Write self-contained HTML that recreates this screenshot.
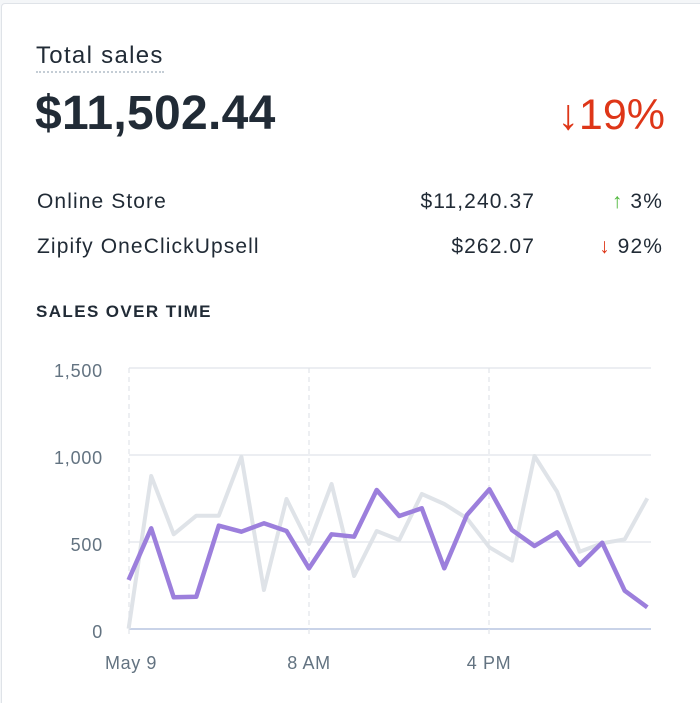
<!DOCTYPE html>
<html><head><style>
html,body{margin:0;width:700px;height:703px;overflow:hidden;}
body{background:#f4f6f8;font-family:"Liberation Sans",sans-serif;position:relative;}
.card{position:absolute;left:1px;top:3px;width:720px;height:700px;background:#fff;border:1px solid #dfe3e8;border-bottom:none;border-radius:4px 4px 0 0;box-sizing:border-box;}
.t{position:absolute;white-space:nowrap;color:#212b36;}
.r{font-size:21px;letter-spacing:1.1px;}
</style></head><body>
<div class="card"></div>
<div class="t" style="left:36px;top:42px;font-size:24px;letter-spacing:1.3px;border-bottom:2px dotted #c4cdd5;padding-bottom:1px;">Total sales</div>
<div class="t" style="left:35px;top:86px;font-size:48px;font-weight:bold;letter-spacing:0.3px;">$11,502.44</div>
<div class="t" style="right:35px;top:91px;font-size:43px;color:#de3618;">↓19%</div>
<div class="t r" style="left:37px;top:190px;">Online Store</div>
<div class="t r" style="right:165px;top:190px;">$11,240.37</div>
<div class="t r" style="right:37px;top:190px;"><span style="color:#50b83c">↑</span> 3%</div>
<div class="t r" style="left:37px;top:235px;">Zipify OneClickUpsell</div>
<div class="t r" style="right:165px;top:235px;">$262.07</div>
<div class="t r" style="right:37px;top:235px;"><span style="color:#de3618">↓</span> 92%</div>
<div class="t" style="left:36px;top:302px;font-size:17px;font-weight:bold;letter-spacing:1.4px;">SALES OVER TIME</div>
<svg style="position:absolute;left:0;top:0" width="700" height="703">
<g stroke="#e6e9ed" stroke-width="1.5">
<line x1="129" y1="368" x2="651" y2="368"/><line x1="129" y1="455" x2="651" y2="455"/><line x1="129" y1="542" x2="651" y2="542"/>
</g>
<line x1="129" y1="629" x2="651" y2="629" stroke="#c9d3e8" stroke-width="2"/>
<g stroke="#e1e4e8" stroke-width="1.2" stroke-dasharray="5,4">
<line x1="129" y1="368" x2="129" y2="638"/><line x1="309" y1="368" x2="309" y2="638"/><line x1="489" y1="368" x2="489" y2="638"/>
</g>
<g font-size="18" fill="#637381" text-anchor="end" letter-spacing="0.8">
<text x="103" y="377">1,500</text><text x="103" y="464">1,000</text><text x="103" y="551">500</text><text x="103" y="638">0</text>
</g>
<g font-size="18" fill="#637381" text-anchor="middle" letter-spacing="0.6">
<text x="131" y="669">May 9</text><text x="309" y="669">8 AM</text><text x="489" y="669">4 PM</text>
</g>
<polyline fill="none" stroke="#dfe3e8" stroke-width="4" stroke-linejoin="round" points="128.6,628.7 151.2,476 173.7,534.3 196.3,515.7 218.8,515.7 241.4,456.7 263.9,590 286.5,499 309,544 331.6,484 354.1,576 376.7,531 399.2,540 421.8,494 444.3,504 466.9,518.3 489.4,547.3 512,560.7 534.5,456 557.1,491.7 579.6,551.7 602.2,543.3 624.7,539.3 647.3,498.3"/>
<polyline fill="none" stroke="#9c7fdc" stroke-width="4.5" stroke-linejoin="round" points="128.6,580 151.2,528.3 173.7,597.3 196.3,596.7 218.8,525.7 241.4,531.7 263.9,523.3 286.5,531 309,568.3 331.6,534.3 354.1,536.7 376.7,490 399.2,516 421.8,508.3 444.3,568.3 466.9,515 489.4,489.3 512,530 534.5,546 557.1,532.3 579.6,565 602.2,542.7 624.7,590.7 647.3,607.3"/>
</svg>
</body></html>
